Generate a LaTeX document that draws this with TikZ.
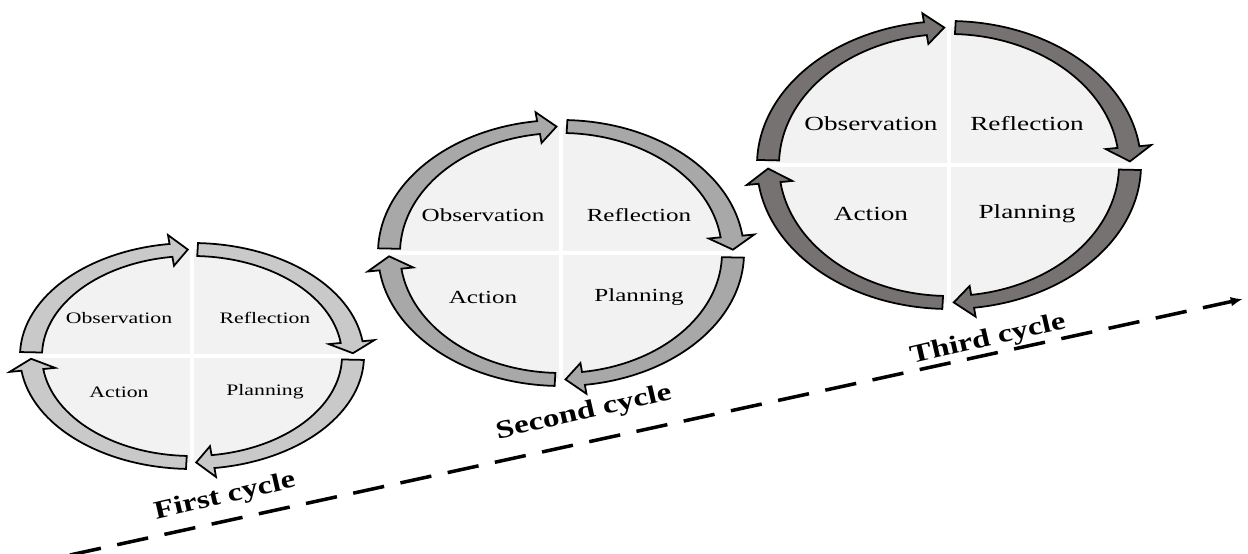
\documentclass[tikz,border=0pt]{standalone}
\usepackage{fontspec}
\setmainfont{Liberation Serif}
\usepackage{graphicx}
\usetikzlibrary{calc,arrows.meta}
\definecolor{quadgray}{RGB}{242,242,242}
\definecolor{arrowA}{RGB}{201,201,201}
\definecolor{arrowB}{RGB}{168,168,168}
\definecolor{arrowC}{RGB}{118,114,114}
\newcommand{\widetext}[1]{\scalebox{1.36}[1]{#1}}
\tikzset{
  quadrant/.style={fill=quadgray,draw=none},
  gapline/.style={draw=white,line width=2.6pt},
  blockarrow/.style={draw=black,line width=1pt,line join=miter},
  steplabel/.style={font=\fontsize{#1}{#1}\selectfont,inner sep=0pt},
  cyclelabel/.style={font=\bfseries\fontsize{14.5}{16}\selectfont,rotate=13,inner sep=0pt},
  timeline/.style={line width=2pt,dash pattern=on 18pt off 9.5pt,-{Latex[length=7pt,width=5.5pt]}}
}

\begin{document}
\begin{tikzpicture}[x=0.02cm,y=0.02cm]
	\useasboundingbox (0,0) rectangle (1248,554);
	% time axis under the cycles
	\coordinate (t0) at (70,-1);
	\coordinate (t1) at (1243,255);
	\draw[timeline] (t0) -- (t1);
	\foreach \i/\cx/\cy/\rx/\ry/\col/\fs/\lx/\lu/\ld in {
		1/192/198/172/113/arrowA/9.1/73/38/36,
		2/561/301/183/133/arrowB/10.5/78/38/44,
		3/949/389/192/144/arrowC/11.4/78/41/49} {
		\coordinate (c\i) at (\cx,\cy);
		\pgfmathsetmacro{\rxm}{\rx-11}
		\pgfmathsetmacro{\rym}{\ry-6.5}
		\pgfmathsetmacro{\rxi}{\rx-22}
		\pgfmathsetmacro{\ryi}{\ry-13}
		\pgfmathsetmacro{\rxo}{\rx+12}
		\pgfmathsetmacro{\ryo}{\ry+9}
		\pgfmathsetmacro{\rxq}{\rx-34}
		\pgfmathsetmacro{\ryq}{\ry-22}
		% four quadrants with a white cross between them
		\fill[quadrant] (c\i) ellipse[x radius=\rxm, y radius=\rym];
		\draw[gapline] ($(c\i)+(-\rx,0)$) -- ($(c\i)+(\rx,0)$);
		\draw[gapline] ($(c\i)+(0,-\ry)$) -- ($(c\i)+(0,\ry)$);
		% quarter arrows, clockwise
		\foreach \k in {0,...,3} {
			\pgfmathsetmacro{\ta}{178-90*\k}
			\pgfmathsetmacro{\tp}{91.5-90*\k}
			\pgfmathsetmacro{\hb}{\tp+6}
			\filldraw[blockarrow,fill=\col]
				($(c\i)+({\rx*cos(\ta)},{\ry*sin(\ta)})$) arc[start angle=\ta,end angle=\hb,x radius=\rx,y radius=\ry]
				-- ($(c\i)+({\rxo*cos(\hb)},{\ryo*sin(\hb)})$)
				-- ($(c\i)+({\rxm*cos(\tp)},{\rym*sin(\tp)})$)
				-- ($(c\i)+({\rxq*cos(\hb)},{\ryq*sin(\hb)})$)
				-- ($(c\i)+({\rxi*cos(\hb)},{\ryi*sin(\hb)})$)
				arc[start angle=\hb,end angle=\ta,x radius=\rxi,y radius=\ryi]
				-- cycle;
		}
		\node[steplabel=\fs] (obs\i) at ($(c\i)+(-\lx,\lu)$) {\widetext{Observation}};
		\node[steplabel=\fs] (ref\i) at ($(c\i)+(\lx,\lu)$) {\widetext{Reflection}};
		\node[steplabel=\fs] (act\i) at ($(c\i)+(-\lx,-\ld)$) {\widetext{Action}};
		\node[steplabel=\fs] (pla\i) at ($(c\i)+(\lx,-\ld)$) {\widetext{Planning}};
	}
	\node[cyclelabel] (cyc1) at (225,57) {\scalebox{1.28}[1]{First cycle}};
	\node[cyclelabel] (cyc2) at (584,141) {\scalebox{1.3}[1]{Second cycle}};
	\node[cyclelabel] (cyc3) at (988,214) {\scalebox{1.28}[1]{Third cycle}};
\end{tikzpicture}
\end{document}
